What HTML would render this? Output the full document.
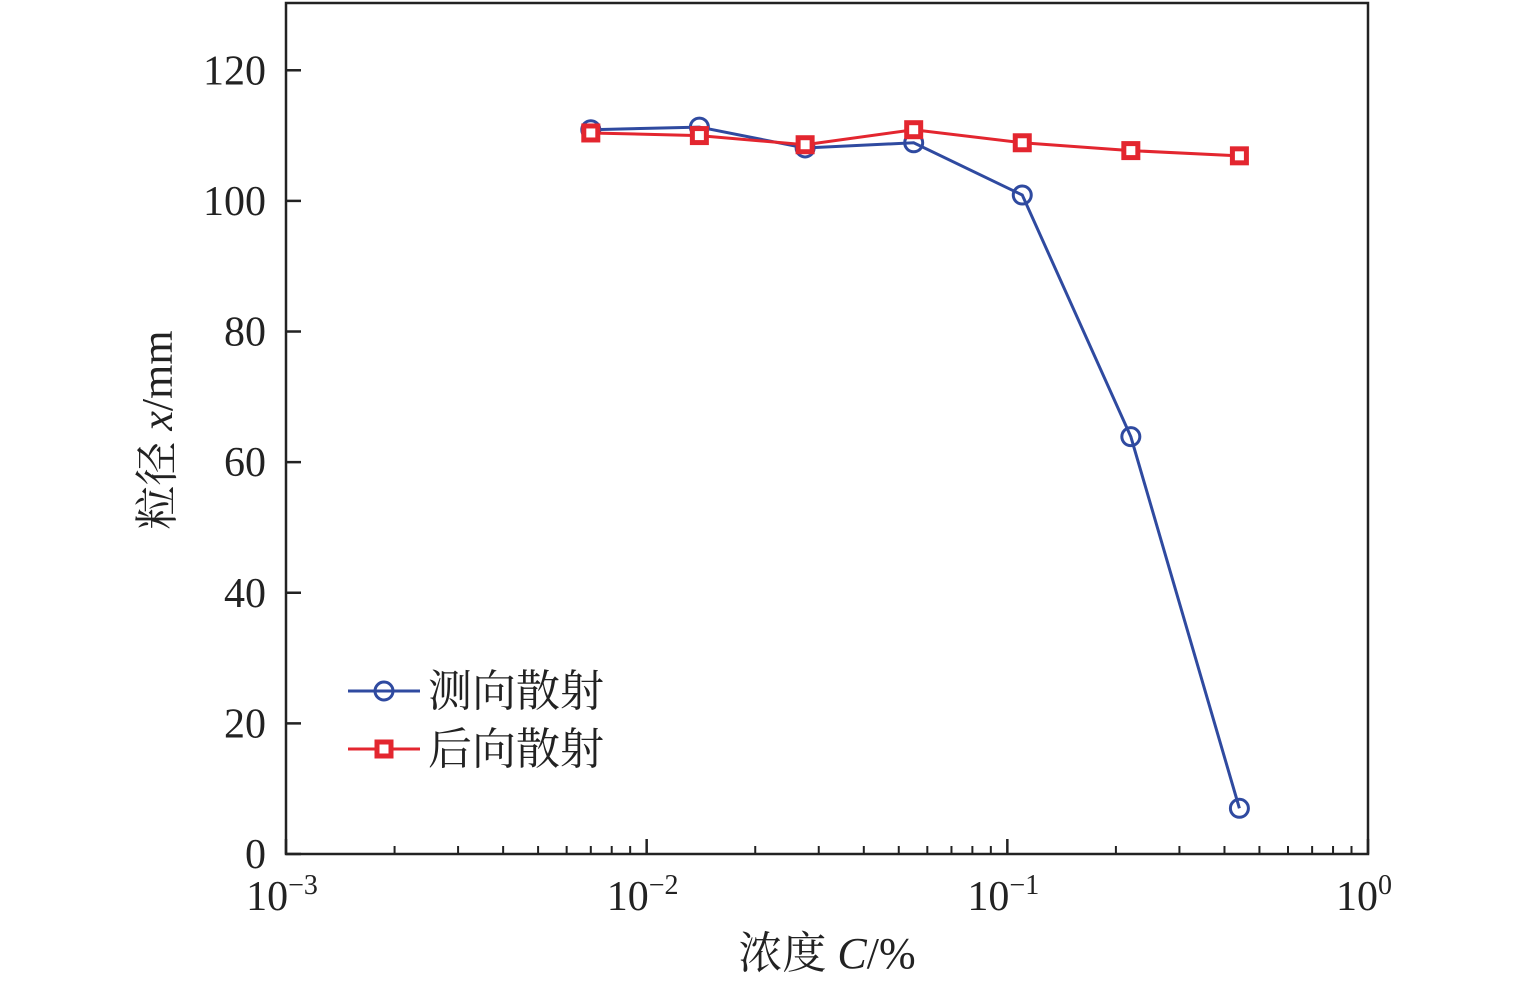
<!DOCTYPE html>
<html><head><meta charset="utf-8"><style>
body{margin:0;background:#fff}
svg{display:block}
text{font-family:"Liberation Serif","Noto Serif CJK SC",serif;fill:#222}
</style></head><body>
<svg id="chart" width="1535" height="986" viewBox="0 0 1535 986" xmlns="http://www.w3.org/2000/svg">
<g id="axes"></g>
<g id="series"></g>
<g id="legend">
<line x1="348" y1="691" x2="420" y2="691" stroke="#2f4aa0" stroke-width="3"/>
<circle cx="384" cy="691" r="9" fill="none" stroke="#2f4aa0" stroke-width="3"/>
<text x="428" y="706" font-size="44">测向散射</text>
<line x1="348" y1="749" x2="420" y2="749" stroke="#e3262f" stroke-width="3"/>
<rect x="377" y="742" width="14" height="14" fill="#fff" stroke="#e3262f" stroke-width="5"/>
<text x="428" y="764" font-size="44">后向散射</text>
</g>
</svg>
<script>
const concentrations=[0.007,0.014,0.0275,0.055,0.11,0.22,0.44];
const sideScatter=[110.9,111.3,108.1,108.9,100.9,63.9,7.0];
const backScatter=[110.4,110.0,108.6,110.9,108.9,107.7,106.9];
const yTicks=[0,20,40,60,80,100,120];
const xDecades=[-3,-2,-1,0];
const L=286,R=1368,T=3,B=854,YMAX=130.3;
const NS="http://www.w3.org/2000/svg";
function xs(v){return L+(Math.log10(v)+3)/3*(R-L);}
function ys(v){return B-v/YMAX*(B-T);}
function mk(tag,attrs,parent){const e=document.createElementNS(NS,tag);for(const k in attrs)e.setAttribute(k,attrs[k]);parent.appendChild(e);return e;}
const axes=document.getElementById('axes'),series=document.getElementById('series');
const frame=mk('rect',{x:L,y:T,width:R-L,height:B-T,fill:'none',stroke:'#222','stroke-width':2.5},axes);


yTicks.forEach(v=>{
 const y=ys(v);
 const t=mk('line',{x1:L,x2:L+15,y1:y,y2:y,stroke:'#222','stroke-width':2.5},axes);
 
 
 const lb=mk('text',{x:266,y:y+14,'font-size':42,'text-anchor':'end'},axes);
 lb.textContent=v;
 
 
});
xDecades.forEach(d=>{
 const x=xs(Math.pow(10,d));
 const t=mk('line',{x1:x,x2:x,y1:B,y2:B-15,stroke:'#222','stroke-width':2.5},axes);
 
 
 const lb=mk('text',{x:x-4,y:910,'font-size':42,'text-anchor':'middle'},axes);
 lb.innerHTML='10<tspan dy="-16" font-size="28">'+(d<0?'\u2212'+(-d):d)+'</tspan>';
 
 
 if(d<0){for(let m=2;m<=9;m++){
  const xm=xs(m*Math.pow(10,d));
  const mt=mk('line',{x1:xm,x2:xm,y1:B,y2:B-8,stroke:'#222','stroke-width':2},axes);
  
  
 }}
});
const xt=mk('text',{x:827,y:968,'font-size':44,'text-anchor':'middle'},axes);
xt.innerHTML='浓度 <tspan font-style="italic">C</tspan>/%';


const yt=mk('text',{x:0,y:0,'font-size':44,'text-anchor':'middle',transform:'translate(172,430) rotate(-90)'},axes);
yt.innerHTML='粒径 <tspan font-style="italic">x</tspan>/mm';


function drawSeries(vals,color,name,square){
 const pts=concentrations.map((c,i)=>xs(c)+','+ys(vals[i])).join(' ');
 const pl=mk('polyline',{points:pts,fill:'none',stroke:color,'stroke-width':3},series);
 
 
 concentrations.forEach((c,i)=>{
  let m;
  if(square) m=mk('rect',{x:xs(c)-7,y:ys(vals[i])-7,width:14,height:14,fill:'#fff',stroke:color,'stroke-width':5},series);
  else m=mk('circle',{cx:xs(c),cy:ys(vals[i]),r:9,fill:'none',stroke:color,'stroke-width':3},series);
  
  
 });
}
drawSeries(sideScatter,'#2f4aa0','side-scatter',false);
drawSeries(backScatter,'#e3262f','back-scatter',true);
</script>
</body></html>
